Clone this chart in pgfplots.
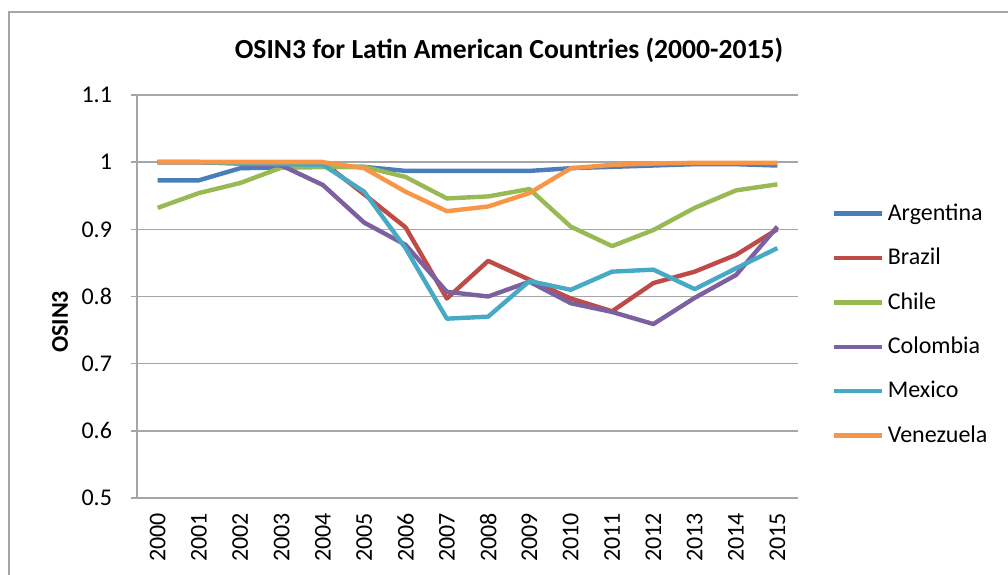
\documentclass[border=0pt]{standalone}
\usepackage{pgfplots}
\pgfplotsset{compat=1.18}
\usepackage{fontspec}
\setmainfont{Carlito}
\definecolor{cArg}{HTML}{4A7EBB}
\definecolor{cBra}{HTML}{BE4B48}
\definecolor{cChi}{HTML}{98B954}
\definecolor{cCol}{HTML}{7D60A0}
\definecolor{cMex}{HTML}{46AAC5}
\definecolor{cVen}{HTML}{F79646}
\definecolor{gridc}{HTML}{A6A6A6}
\begin{document}
\begin{tikzpicture}
\useasboundingbox (0,0) rectangle (504pt,287pt);
\draw[gridc, line width=0.8pt] (4.5pt,-5pt) -- (4.5pt,281pt) -- (515pt,281pt);
\node[font=\fontsize{13.8}{16}\selectfont\bfseries] at (254.5pt,262pt) {OSIN3 for Latin American Countries (2000-2015)};
\begin{axis}[
  at={(68.5pt,38pt)}, anchor=south west,
  scale only axis, width=330.5pt, height=201.5pt,
  xmin=-0.5, xmax=15.5, ymin=0.5, ymax=1.1,
  xtick={0,...,15},
  xticklabels={2000,2001,2002,2003,2004,2005,2006,2007,2008,2009,2010,2011,2012,2013,2014,2015},
  ytick={0.5,0.6,0.7,0.8,0.9,1.0,1.1},
  yticklabels={0.5,0.6,0.7,0.8,0.9,1,1.1},
  /pgf/number format/assume math mode=true,
  axis x line*=bottom, axis y line*=left,
  axis line style={gridc, line width=0.8pt, -},
  ymajorgrids, grid style={gridc, line width=0.8pt},
  major tick length=3pt,
  xtick style={draw=none},
  ytick style={gridc, line width=0.8pt},
  tick align=outside,
  ticklabel style={font=\fontsize{12}{14}\selectfont},
  xticklabel style={rotate=90, anchor=east, xshift=-1pt},
  yticklabel style={xshift=-6pt},
  ylabel={\textbf{OSIN3}},
  ylabel style={font=\fontsize{12}{14}\selectfont, at={(axis description cs:-0.1165,0.437)}, anchor=center, rotate=0},
  legend style={draw=none, fill=none, at={(axis description cs:1.05,0.4305)}, anchor=west,
     font=\fontsize{12}{14}\selectfont, row sep=8.4pt, inner sep=0pt},
  legend cell align=left,
  legend image code/.code={\draw[#1] (0pt,0pt) -- (24pt,0pt);},
  every axis plot/.append style={line width=2.2pt, line join=round},
  clip=false,
]
\addplot[cArg] coordinates {(0,0.973)(1,0.973)(2,0.991)(3,0.992)(4,0.993)(5,0.993)(6,0.987)(7,0.987)(8,0.987)(9,0.987)(10,0.991)(11,0.993)(12,0.995)(13,0.997)(14,0.997)(15,0.995)};
\addlegendentry{Argentina}
\addplot[cBra] coordinates {(0,1.0)(1,1.0)(2,1.0)(3,1.0)(4,1.0)(5,0.952)(6,0.903)(7,0.797)(8,0.853)(9,0.825)(10,0.797)(11,0.778)(12,0.82)(13,0.837)(14,0.862)(15,0.90)};
\addlegendentry{Brazil}
\addplot[cChi] coordinates {(0,0.932)(1,0.954)(2,0.969)(3,0.992)(4,0.993)(5,0.993)(6,0.978)(7,0.946)(8,0.949)(9,0.96)(10,0.904)(11,0.875)(12,0.899)(13,0.932)(14,0.958)(15,0.967)};
\addlegendentry{Chile}
\addplot[cCol] coordinates {(0,1.0)(1,1.0)(2,0.998)(3,0.995)(4,0.966)(5,0.91)(6,0.877)(7,0.807)(8,0.80)(9,0.822)(10,0.79)(11,0.777)(12,0.759)(13,0.798)(14,0.832)(15,0.904)};
\addlegendentry{Colombia}
\addplot[cMex] coordinates {(0,1.0)(1,1.0)(2,0.998)(3,0.997)(4,0.996)(5,0.956)(6,0.872)(7,0.767)(8,0.77)(9,0.823)(10,0.81)(11,0.837)(12,0.84)(13,0.811)(14,0.842)(15,0.872)};
\addlegendentry{Mexico}
\addplot[cVen] coordinates {(0,1.0)(1,1.0)(2,1.0)(3,1.0)(4,1.0)(5,0.991)(6,0.956)(7,0.927)(8,0.934)(9,0.954)(10,0.991)(11,0.996)(12,0.998)(13,0.999)(14,0.999)(15,0.999)};
\addlegendentry{Venezuela}
\end{axis}
\end{tikzpicture}
\end{document}
